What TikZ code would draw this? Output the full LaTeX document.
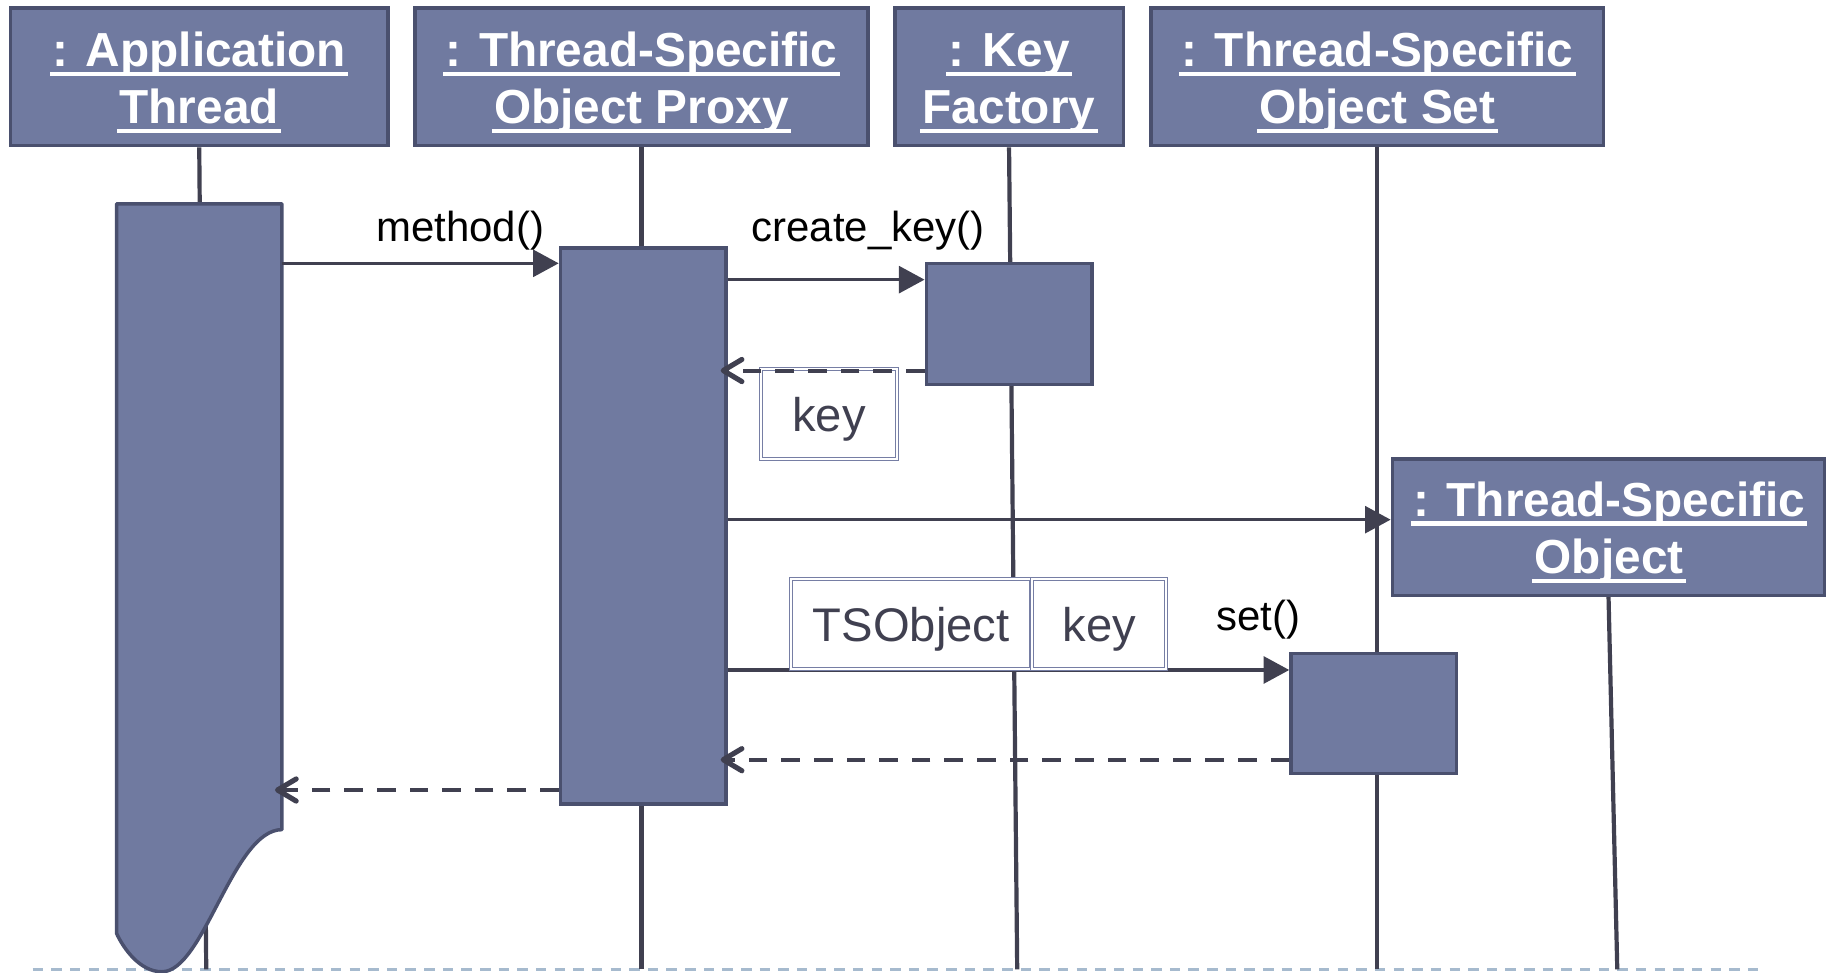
\documentclass[tikz,border=0pt]{standalone}
\usepackage{fontspec}
\setmainfont{Liberation Sans}
\usetikzlibrary{arrows.meta}

\definecolor{objfill}{RGB}{112,122,160}
\definecolor{objline}{RGB}{74,80,110}
\definecolor{ink}{RGB}{64,64,80}
\definecolor{boxline}{RGB}{118,126,164}
\definecolor{floorline}{RGB}{166,186,206}

% thick white underline for object names
\newcommand\objul[1]{\setbox0\hbox{#1}\rlap{\kern-2pt\rule[-8.5pt]{\dimexpr\wd0+4pt\relax}{4pt}}\box0}

\tikzset{
  objhead/.style={draw=objline, line width=3pt, fill=objfill, inner sep=0pt},
  headtext/.style={anchor=base, inner sep=0pt, text=white,
    font=\fontsize{41}{49}\selectfont\bfseries},
  activation/.style={draw=objline, line width=3pt, fill=objfill, inner sep=0pt,
    minimum width=142pt},
  lifeline/.style={draw=ink, line width=3.6pt},
  call/.style={draw=ink, line width=3pt, -{Triangle[length=22pt,width=23pt]}},
  reply/.style={draw=ink, line width=3.4pt, dash pattern=on 16pt off 12pt,
    -{Straight Barb[length=16pt,width=19pt,line width=4.4pt,round]},
    shorten >=-6pt},
  msglabel/.style={anchor=base, inner sep=0pt, text=black,
    font=\fontsize{36}{43}\selectfont},
  valbox/.style={draw=boxline, line width=0.9pt, double=white, double distance=1.5pt,
    fill=white, inner sep=0pt, text=ink, text height=30pt, text depth=0pt,
    font=\fontsize{40.5}{48}\selectfont},
}

\begin{document}
\begin{tikzpicture}[x=1pt,y=-1pt]
\useasboundingbox (0,0) rectangle (1568,835);

% ground line
\coordinate (floorL) at (28,832);
\coordinate (floorR) at (1512,832);
\draw[floorline, line width=2pt, dash pattern=on 9pt off 7pt] (floorL) -- (floorR);

% object heads
\node[objhead, minimum width=324pt, minimum height=118pt] (app) at (171,66) {};
\node[objhead, minimum width=389pt, minimum height=118pt] (proxy) at (550.5,66) {};
\node[objhead, minimum width=196pt, minimum height=118pt] (keyf) at (866,66) {};
\node[objhead, minimum width=388pt, minimum height=118pt] (oset) at (1182,66) {};

% lifelines
\coordinate (appEnd) at (177,832);
\coordinate (proxyEnd) at (550.5,832);
\coordinate (keyfEnd) at (873,832);
\coordinate (osetEnd) at (1182,832);
\coordinate (tsoEnd) at (1388,832);
\draw[lifeline] (app.south) -- (appEnd);
\draw[lifeline] (proxy.south) -- (proxyEnd);
\draw[lifeline] (keyf.south) -- (keyfEnd);
\draw[lifeline] (oset.south) -- (osetEnd);

% head labels
\node[headtext] (appA) at (171,57) {\objul{: Application}};
\node[headtext] (appB) at (171,106) {\objul{Thread}};
\node[headtext] (proxyA) at (550.5,57) {\objul{: Thread-Specific}};
\node[headtext] (proxyB) at (550.5,106) {\objul{Object Proxy}};
\node[headtext] (keyfA) at (866,57) {\objul{: Key}};
\node[headtext] (keyfB) at (866,106) {\objul{Factory}};
\node[headtext] (osetA) at (1182,57) {\objul{: Thread-Specific}};
\node[headtext] (osetB) at (1182,106) {\objul{Object Set}};

% created object
\node[objhead, minimum width=371pt, minimum height=117pt] (tso) at (1380.5,452.5) {};
\draw[lifeline] (tso.south) -- (tsoEnd);
\node[headtext] (tsoA) at (1381,443) {\objul{: Thread-Specific}};
\node[headtext] (tsoB) at (1381,492) {\objul{Object}};

% application thread activation, ending in a wavy edge
\coordinate (appTL) at (100,175);
\coordinate (appTR) at (242,175);
\coordinate (appBR) at (242,712);
\coordinate (appLow) at (139,834);
\coordinate (appBL) at (100,801);
\draw[draw=objline, line width=3pt, fill=objfill, line join=round]
  (appTL) -- (appTR) -- (appBR)
  .. controls (200,712) and (175,834) .. (appLow)
  .. controls (120,834) and (106,814) .. (appBL) -- cycle;

% other activations
\node[activation, minimum height=477pt] (proxyAct) at (552,451.5) {};
\node[activation, minimum height=104pt] (keyAct) at (866,278) {};
\node[activation, minimum height=103pt] (setAct) at (1179,612.5) {};

% messages
\draw[call] (appTR |- 0,226) -- (proxyAct.west |- 0,226);
\node[msglabel] (lblMethod) at (395,207) {method()};

\draw[call] (proxyAct.east |- 0,240) -- (keyAct.west |- 0,240);
\node[msglabel] (lblCreate) at (745,207) {create\_key()};

\node[valbox, minimum width=117pt, minimum height=77pt] (keyVal) at (711.5,355.5) {key};
\draw[reply] (keyAct.west |- 0,318) -- (proxyAct.east |- 0,318);

\draw[call] (proxyAct.east |- 0,446) -- (tso.west |- 0,446);

\draw[call] (proxyAct.east |- 0,575) -- (setAct.west |- 0,575);
\node[valbox, minimum width=206pt, minimum height=77pt] (argObj) at (782,535.5) {TSObject};
\node[valbox, minimum width=115pt, minimum height=77pt] (argKey) at (943.5,535.5) {key};
\node[msglabel] (lblSet) at (1080,541) {set()};

\draw[reply] (setAct.west |- 0,652) -- (proxyAct.east |- 0,652);
\draw[reply] (proxyAct.west |- 0,678) -- (appTR |- 0,678);
\end{tikzpicture}
\end{document}
